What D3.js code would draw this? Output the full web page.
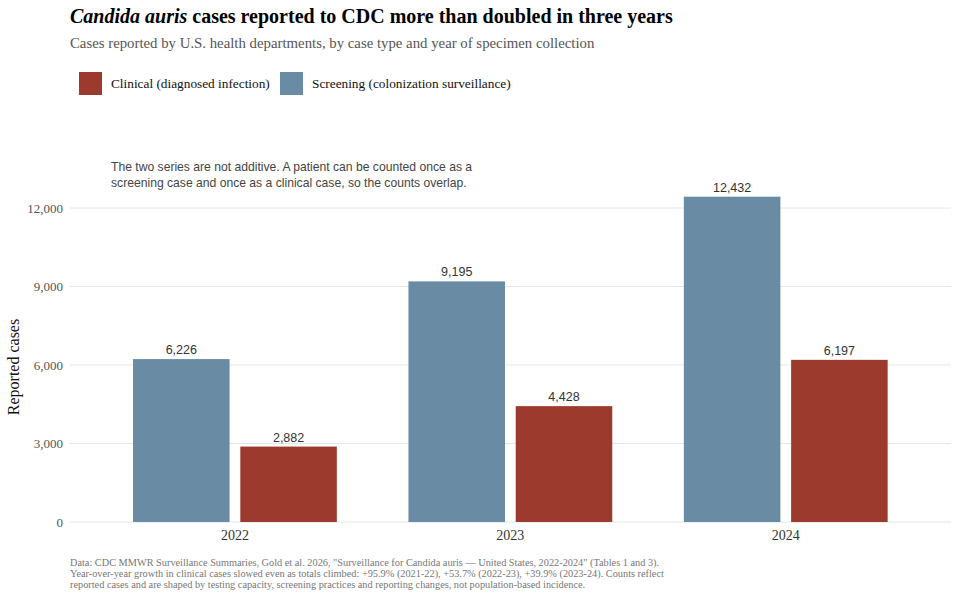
<!DOCTYPE html>
<html>
<head>
<meta charset="utf-8">
<script src="https://cdn.jsdelivr.net/npm/d3@7"></script>
<style>
  body { margin: 0; background: #fff; }
  svg { display: block; }
</style>
</head>
<body>
<div id="chart"></div>
<script>
// data
const years = ["2022", "2023", "2024"];
const seriesNames = ["Screening", "Clinical"];
const screening = [6226, 9195, 12432];
const clinical = [2882, 4428, 6197];
const yTicks = [0, 3000, 6000, 9000, 12000];
const legendLabels = ["Clinical (diagnosed infection)", "Screening (colonization surveillance)"];

const colors = {Screening: "#6a8ba4", Clinical: "#9d3a2e"};
const serif = "'Liberation Serif', 'Times New Roman', serif";
const sans = "'Liberation Sans', Arial, sans-serif";

const W = 959, H = 597;
const plot = {left: 69.7, right: 951, top: 182, bottom: 522};

const svg = d3.select("#chart").append("svg")
    .attr("width", W)
    .attr("height", H);

// scales
const x = d3.scaleBand()
    .domain(years)
    .range([plot.left, plot.right])
    .paddingInner(0.26)
    .paddingOuter(0.23);

const xs = d3.scaleBand()
    .domain(seriesNames)
    .range([0, x.bandwidth()])
    .paddingInner(0.1);

const y = d3.scaleLinear()
    .domain([0, 12000 * (plot.bottom - plot.top) / 314])
    .range([plot.bottom, plot.top]);

// gridlines
svg.append("g")
  .selectAll("line")
  .data(yTicks)
  .join("line")
    .attr("x1", plot.left)
    .attr("x2", plot.right)
    .attr("y1", d => y(d))
    .attr("y2", d => y(d))
    .attr("stroke", "#e6e6e6")
    .attr("stroke-width", 1);

// y axis labels
svg.append("g")
  .selectAll("text")
  .data(yTicks)
  .join("text")
    .attr("x", 63)
    .attr("y", d => y(d))
    .attr("dy", "0.35em")
    .attr("text-anchor", "end")
    .style("font-family", serif)
    .style("font-size", "13px")
    .style("fill", "#555")
    .text(d => d3.format(",")(d));

// y axis title
svg.append("text")
    .attr("transform", `translate(19, ${(y(0) + y(12000)) / 2 + 2}) rotate(-90)`)
    .attr("text-anchor", "middle")
    .style("font-family", serif)
    .style("font-size", "16px")
    .style("fill", "#111")
    .text("Reported cases");

// x axis labels
svg.append("g")
  .selectAll("text")
  .data(years)
  .join("text")
    .attr("x", d => x(d) + x.bandwidth() / 2)
    .attr("y", 540)
    .attr("text-anchor", "middle")
    .style("font-family", serif)
    .style("font-size", "14px")
    .style("fill", "#333")
    .text(d => d);

// bars
const rows = [];
years.forEach(function(yr, i) {
  rows.push({year: yr, series: "Screening", value: screening[i]});
  rows.push({year: yr, series: "Clinical", value: clinical[i]});
});

const bars = svg.append("g")
  .selectAll("g")
  .data(rows)
  .join("g")
    .attr("transform", d => `translate(${x(d.year) + xs(d.series)}, 0)`);

bars.append("rect")
    .attr("x", 0)
    .attr("y", d => y(d.value))
    .attr("width", xs.bandwidth())
    .attr("height", d => y(0) - y(d.value))
    .attr("fill", d => colors[d.series]);

bars.append("text")
    .attr("x", xs.bandwidth() / 2)
    .attr("y", d => y(d.value) - 5)
    .attr("text-anchor", "middle")
    .style("font-family", sans)
    .style("font-size", "12.5px")
    .style("fill", "#333")
    .text(d => d3.format(",")(d.value));

// annotation
const note = svg.append("text")
    .style("font-family", sans)
    .style("font-size", "12.15px")
    .style("fill", "#444");
note.append("tspan").attr("x", 111).attr("y", 171)
    .text("The two series are not additive. A patient can be counted once as a");
note.append("tspan").attr("x", 111).attr("y", 187)
    .text("screening case and once as a clinical case, so the counts overlap.");

// title
const title = svg.append("text")
    .attr("x", 70)
    .attr("y", 23)
    .style("font-family", serif)
    .style("font-size", "20px")
    .style("font-weight", "bold")
    .style("fill", "#000");
title.append("tspan").style("font-style", "italic").text("Candida auris");
title.append("tspan").text(" cases reported to CDC more than doubled in three years");

svg.append("text")
    .attr("x", 70)
    .attr("y", 48)
    .style("font-family", serif)
    .style("font-size", "14.8px")
    .style("fill", "#555")
    .text("Cases reported by U.S. health departments, by case type and year of specimen collection");

// legend
const legendItems = [
  {label: legendLabels[0], color: colors.Clinical, x: 79},
  {label: legendLabels[1], color: colors.Screening, x: 280}
];
const legend = svg.append("g")
  .selectAll("g")
  .data(legendItems)
  .join("g")
    .attr("transform", d => `translate(${d.x}, 72)`);
legend.append("rect")
    .attr("width", 23)
    .attr("height", 23)
    .attr("fill", d => d.color);
legend.append("text")
    .attr("x", 32)
    .attr("y", 16)
    .style("font-family", serif)
    .style("font-size", "13.3px")
    .style("fill", "#111")
    .text(d => d.label);

// caption
const captionLines = [
  "Data: CDC MMWR Surveillance Summaries, Gold et al. 2026, \"Surveillance for Candida auris \u2014 United States, 2022-2024\" (Tables 1 and 3).",
  "Year-over-year growth in clinical cases slowed even as totals climbed: +95.9% (2021-22), +53.7% (2022-23), +39.9% (2023-24). Counts reflect",
  "reported cases and are shaped by testing capacity, screening practices and reporting changes, not population-based incidence."
];
svg.append("g")
  .selectAll("text")
  .data(captionLines)
  .join("text")
    .attr("x", 70)
    .attr("y", (d, i) => 566 + i * 11)
    .style("font-family", serif)
    .style("font-size", "10.3px")
    .style("fill", "#777")
    .text(d => d);
</script>
</body>
</html>
